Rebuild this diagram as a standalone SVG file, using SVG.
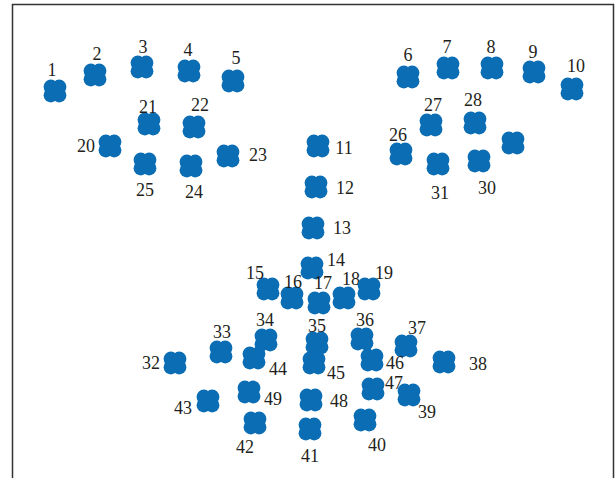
<svg xmlns="http://www.w3.org/2000/svg" xmlns:xlink="http://www.w3.org/1999/xlink" width="615" height="478" viewBox="0 0 615 478">
<style>
.lbl{font-family:"Liberation Serif","Times New Roman",serif;font-size:18px;fill:#231f20;text-anchor:middle}
.frame{fill:none;stroke:#333;stroke-width:1.5}
</style>
<defs>
<g id="m" fill="#0b6db4">
<circle cx="-4.2" cy="-4.2" r="7.2"/><circle cx="4.2" cy="-4.2" r="7.2"/><circle cx="-4.2" cy="4.2" r="7.2"/><circle cx="4.2" cy="4.2" r="7.2"/><rect x="-6" y="-6" width="12" height="12"/>
</g>
</defs>
<path class="frame" d="M12.5,480 V4.5 H613.5 V480"/>
<g id="connectors"></g>
<g id="n1"><use xlink:href="#m" x="55" y="91"/><text class="lbl" x="52" y="75.5">1</text></g>
<g id="n2"><use xlink:href="#m" x="95" y="75"/><text class="lbl" x="97" y="59.5">2</text></g>
<g id="n3"><use xlink:href="#m" x="142" y="67"/><text class="lbl" x="143" y="52.5">3</text></g>
<g id="n4"><use xlink:href="#m" x="189" y="71"/><text class="lbl" x="188" y="55.5">4</text></g>
<g id="n5"><use xlink:href="#m" x="233" y="81"/><text class="lbl" x="236" y="63.5">5</text></g>
<g id="n6"><use xlink:href="#m" x="408" y="77"/><text class="lbl" x="408" y="60.5">6</text></g>
<g id="n7"><use xlink:href="#m" x="448" y="68"/><text class="lbl" x="447" y="52.5">7</text></g>
<g id="n8"><use xlink:href="#m" x="492" y="68"/><text class="lbl" x="491" y="52.5">8</text></g>
<g id="n9"><use xlink:href="#m" x="534" y="72"/><text class="lbl" x="533" y="57.5">9</text></g>
<g id="n10"><use xlink:href="#m" x="572" y="89"/><text class="lbl" x="576" y="71.5">10</text></g>
<g id="n11"><use xlink:href="#m" x="318" y="146"/><text class="lbl" x="344" y="153.5">11</text></g>
<g id="n12"><use xlink:href="#m" x="316" y="187"/><text class="lbl" x="345" y="193.5">12</text></g>
<g id="n13"><use xlink:href="#m" x="313" y="228"/><text class="lbl" x="342" y="233.5">13</text></g>
<g id="n14"><use xlink:href="#m" x="312" y="268"/><text class="lbl" x="336" y="265.5">14</text></g>
<g id="n15"><use xlink:href="#m" x="268" y="289"/><text class="lbl" x="255" y="278.5">15</text></g>
<g id="n16"><use xlink:href="#m" x="292" y="298"/><text class="lbl" x="293" y="287.5">16</text></g>
<g id="n17"><use xlink:href="#m" x="319" y="303"/><text class="lbl" x="323" y="288.5">17</text></g>
<g id="n18"><use xlink:href="#m" x="344" y="298"/><text class="lbl" x="351" y="284.5">18</text></g>
<g id="n19"><use xlink:href="#m" x="369" y="289"/><text class="lbl" x="384" y="278.5">19</text></g>
<g id="n20"><use xlink:href="#m" x="110" y="146"/><text class="lbl" x="86" y="151.5">20</text></g>
<g id="n21"><use xlink:href="#m" x="149" y="124"/><text class="lbl" x="148" y="112.5">21</text></g>
<g id="n22"><use xlink:href="#m" x="194" y="127"/><text class="lbl" x="200" y="110.5">22</text></g>
<g id="n23"><use xlink:href="#m" x="228" y="156"/><text class="lbl" x="258" y="160.5">23</text></g>
<g id="n24"><use xlink:href="#m" x="191" y="166"/><text class="lbl" x="194" y="197.5">24</text></g>
<g id="n25"><use xlink:href="#m" x="145" y="164"/><text class="lbl" x="145" y="195.5">25</text></g>
<g id="n26"><use xlink:href="#m" x="401" y="154"/><text class="lbl" x="398" y="140.5">26</text></g>
<g id="n27"><use xlink:href="#m" x="431" y="125"/><text class="lbl" x="433" y="110.5">27</text></g>
<g id="n28"><use xlink:href="#m" x="475" y="123"/><text class="lbl" x="473" y="105.5">28</text></g>
<g id="n29"><use xlink:href="#m" x="513" y="143"/></g>
<g id="n30"><use xlink:href="#m" x="479" y="161"/><text class="lbl" x="487" y="193.5">30</text></g>
<g id="n31"><use xlink:href="#m" x="438" y="164"/><text class="lbl" x="440" y="198.5">31</text></g>
<g id="n32"><use xlink:href="#m" x="175" y="363"/><text class="lbl" x="151" y="368.5">32</text></g>
<g id="n33"><use xlink:href="#m" x="221" y="352"/><text class="lbl" x="222" y="337.5">33</text></g>
<g id="n34"><use xlink:href="#m" x="266" y="340"/><text class="lbl" x="265" y="325.5">34</text></g>
<g id="n35"><use xlink:href="#m" x="317" y="343"/><text class="lbl" x="317" y="331.5">35</text></g>
<g id="n36"><use xlink:href="#m" x="362" y="339"/><text class="lbl" x="365" y="325.5">36</text></g>
<g id="n37"><use xlink:href="#m" x="406" y="346"/><text class="lbl" x="417" y="333.5">37</text></g>
<g id="n38"><use xlink:href="#m" x="444" y="362"/><text class="lbl" x="478" y="369.5">38</text></g>
<g id="n39"><use xlink:href="#m" x="409" y="395"/><text class="lbl" x="427" y="417.5">39</text></g>
<g id="n40"><use xlink:href="#m" x="365" y="420"/><text class="lbl" x="377" y="450.5">40</text></g>
<g id="n41"><use xlink:href="#m" x="310" y="429"/><text class="lbl" x="310" y="461.5">41</text></g>
<g id="n42"><use xlink:href="#m" x="255" y="423"/><text class="lbl" x="245" y="452.5">42</text></g>
<g id="n43"><use xlink:href="#m" x="208" y="401"/><text class="lbl" x="183" y="413.5">43</text></g>
<g id="n44"><use xlink:href="#m" x="254" y="358"/><text class="lbl" x="278" y="374.5">44</text></g>
<g id="n45"><use xlink:href="#m" x="314" y="363"/><text class="lbl" x="336" y="378.5">45</text></g>
<g id="n46"><use xlink:href="#m" x="372" y="360"/><text class="lbl" x="395" y="368.5">46</text></g>
<g id="n47"><use xlink:href="#m" x="373" y="389"/><text class="lbl" x="394" y="388.5">47</text></g>
<g id="n48"><use xlink:href="#m" x="311" y="400"/><text class="lbl" x="339" y="406.5">48</text></g>
<g id="n49"><use xlink:href="#m" x="249" y="392"/><text class="lbl" x="273" y="404.5">49</text></g>
</svg>
